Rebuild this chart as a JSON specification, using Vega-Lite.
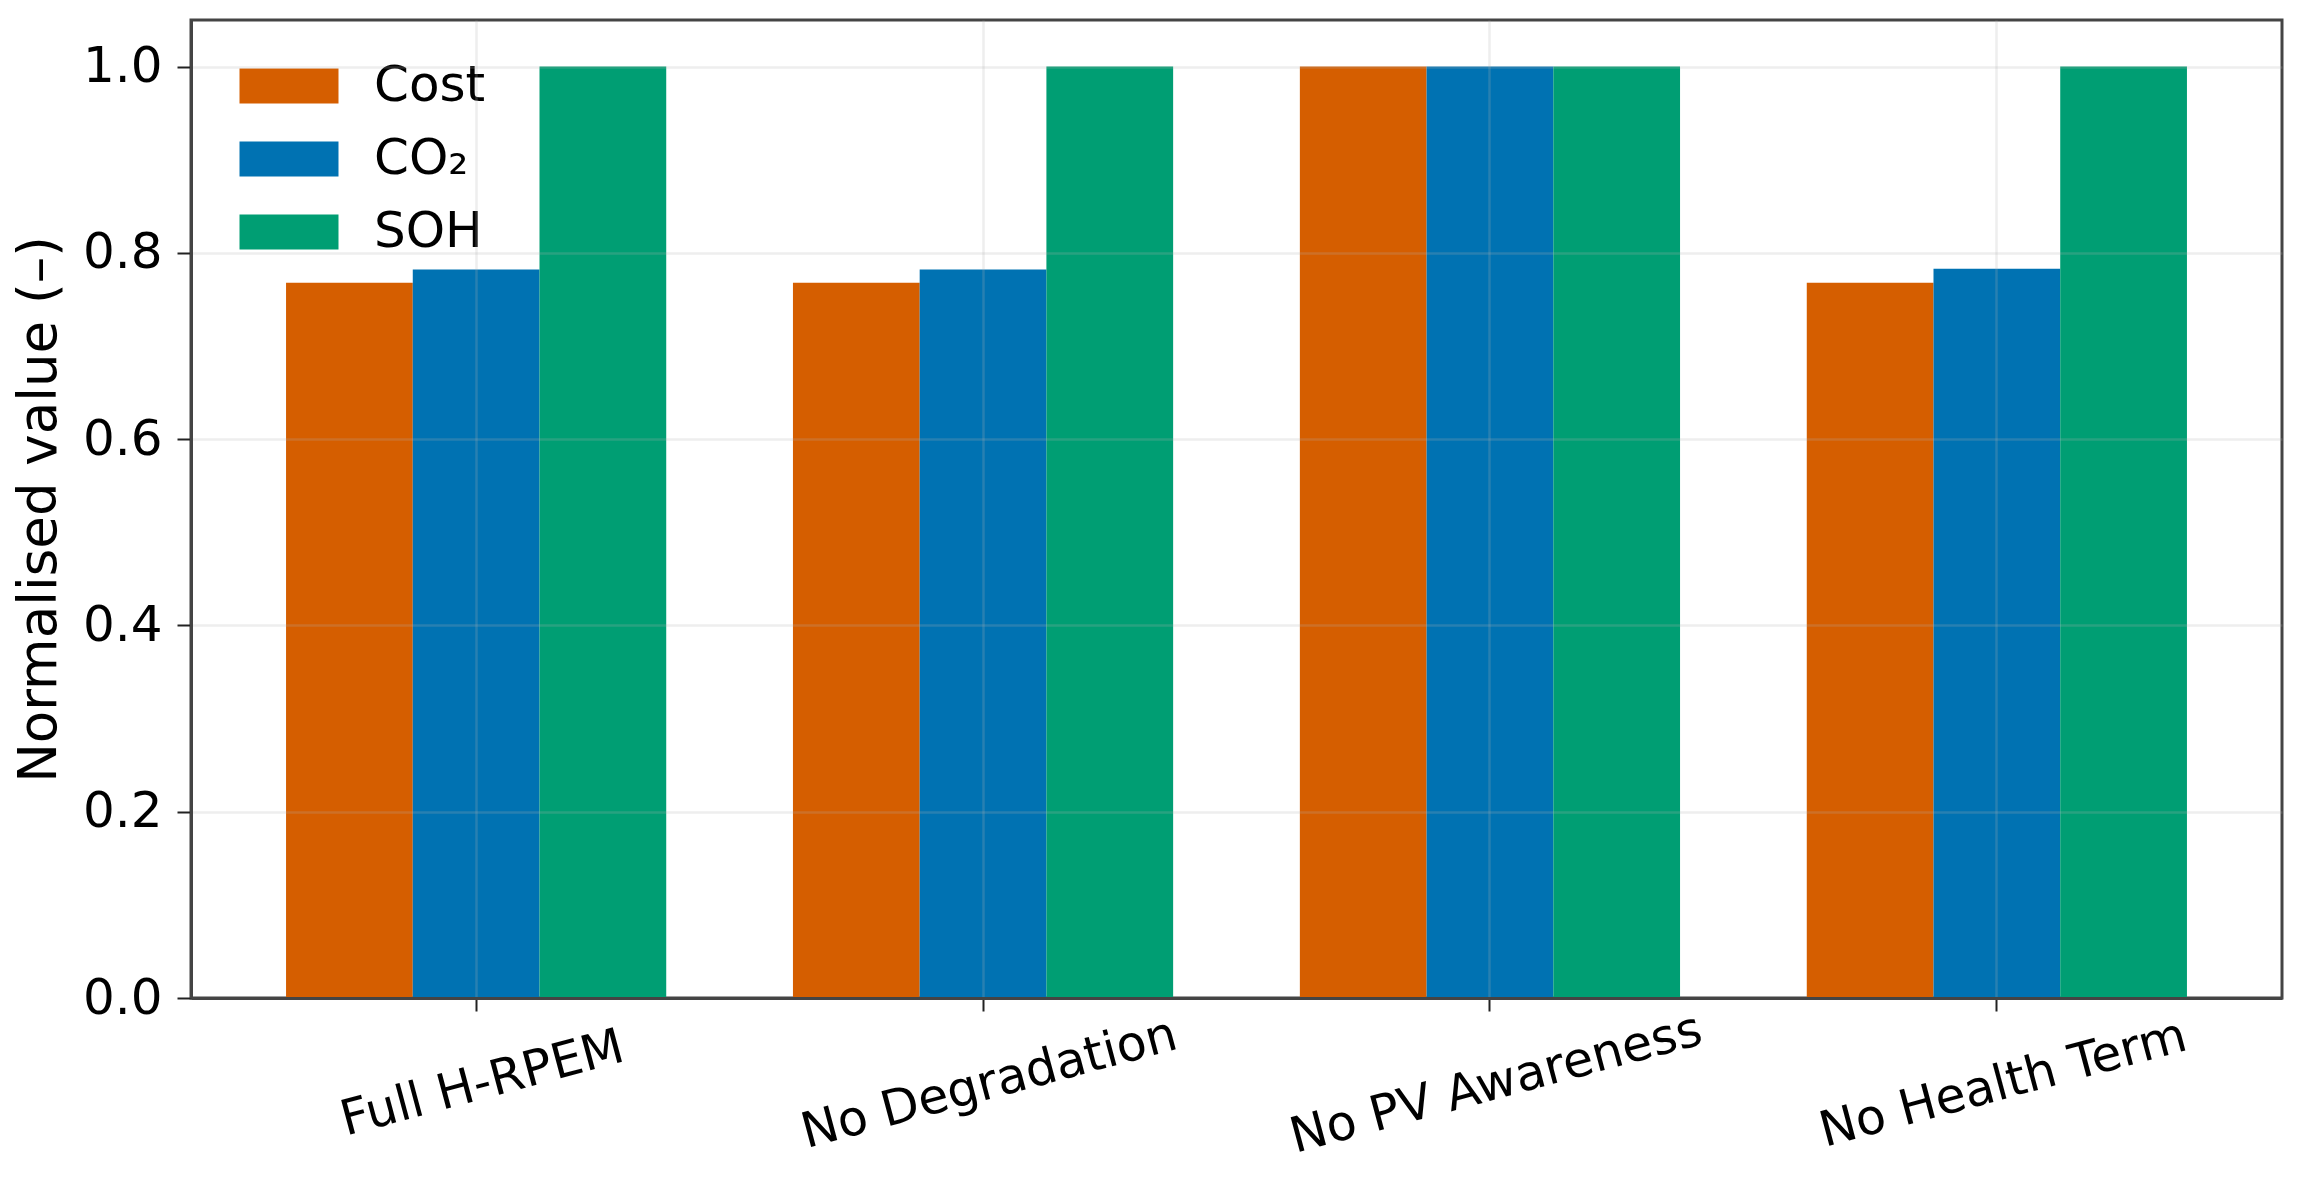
{
  "$schema": "https://vega.github.io/schema/vega-lite/v6.json",
  "autosize": {"type": "none"},
  "padding": {"left": 191, "top": 20, "right": 16, "bottom": 188},
  "width": 2091,
  "height": 978,
  "background": "white",
  "config": {
    "font": "DejaVu Sans",
    "view": {"stroke": "#444444", "strokeWidth": 3},
    "axis": {"labelFont": "DejaVu Sans", "titleFont": "DejaVu Sans", "labelColor": "black", "titleColor": "black"},
    "legend": {"labelFont": "DejaVu Sans"}
  },
  "data": {
    "values": [
      {"variant": "Full H-RPEM", "metric": "Cost", "value": 0.768},
      {"variant": "Full H-RPEM", "metric": "CO₂", "value": 0.782},
      {"variant": "Full H-RPEM", "metric": "SOH", "value": 1.0},
      {"variant": "No Degradation", "metric": "Cost", "value": 0.768},
      {"variant": "No Degradation", "metric": "CO₂", "value": 0.782},
      {"variant": "No Degradation", "metric": "SOH", "value": 1.0},
      {"variant": "No PV Awareness", "metric": "Cost", "value": 1.0},
      {"variant": "No PV Awareness", "metric": "CO₂", "value": 1.0},
      {"variant": "No PV Awareness", "metric": "SOH", "value": 1.0},
      {"variant": "No Health Term", "metric": "Cost", "value": 0.768},
      {"variant": "No Health Term", "metric": "CO₂", "value": 0.783},
      {"variant": "No Health Term", "metric": "SOH", "value": 1.0}
    ]
  },
  "mark": {"type": "bar"},
  "encoding": {
    "x": {
      "field": "variant",
      "type": "nominal",
      "sort": ["Full H-RPEM", "No Degradation", "No PV Awareness", "No Health Term"],
      "scale": {"paddingInner": 0.25, "paddingOuter": 0.1875},
      "axis": {
        "title": null,
        "zindex": 1,
        "grid": true,
        "gridColor": "#b0b0b0",
        "gridOpacity": 0.22,
        "gridWidth": 2.5,
        "domain": true,
        "domainColor": "#444444",
        "domainWidth": 3,
        "ticks": true,
        "tickColor": "#222222",
        "tickWidth": 2,
        "tickSize": 13,
        "labelFontSize": 49,
        "labelAngle": -15,
        "labelAlign": "center",
        "labelBaseline": "top",
        "labelPadding": 49,
        "labelOverlap": false,
        "labelFlush": false,
        "labelLimit": 0
      }
    },
    "xOffset": {
      "field": "metric",
      "type": "nominal",
      "sort": ["Cost", "CO₂", "SOH"],
      "scale": {"paddingInner": 0, "paddingOuter": 0}
    },
    "y": {
      "field": "value",
      "type": "quantitative",
      "scale": {"domain": [0, 1.05], "nice": false, "zero": true},
      "axis": {
        "title": "Normalised value (–)",
        "titleFontSize": 53,
        "titleFontWeight": "normal",
        "titlePadding": 16,
        "zindex": 1,
        "values": [0, 0.2, 0.4, 0.6, 0.8, 1.0],
        "format": ".1f",
        "grid": true,
        "gridColor": "#b0b0b0",
        "gridOpacity": 0.22,
        "gridWidth": 2.5,
        "domain": true,
        "domainColor": "#444444",
        "domainWidth": 3,
        "ticks": true,
        "tickColor": "#222222",
        "tickWidth": 2,
        "tickSize": 14,
        "labelFontSize": 50,
        "labelPadding": 15
      }
    },
    "color": {
      "field": "metric",
      "type": "nominal",
      "scale": {"domain": ["Cost", "CO₂", "SOH"], "range": ["#D55E00", "#0072B2", "#009E73"]},
      "legend": {
        "title": null,
        "orient": "top-left",
        "offset": 41,
        "padding": 0,
        "labelFontSize": 50,
        "labelColor": "black",
        "labelOffset": 92,
        "rowPadding": 23,
        "symbolType": "M-1,-1H4.657V1H-1Z",
        "symbolSize": 1225,
        "symbolStrokeWidth": 0,
        "symbolOpacity": 1
      }
    }
  }
}
